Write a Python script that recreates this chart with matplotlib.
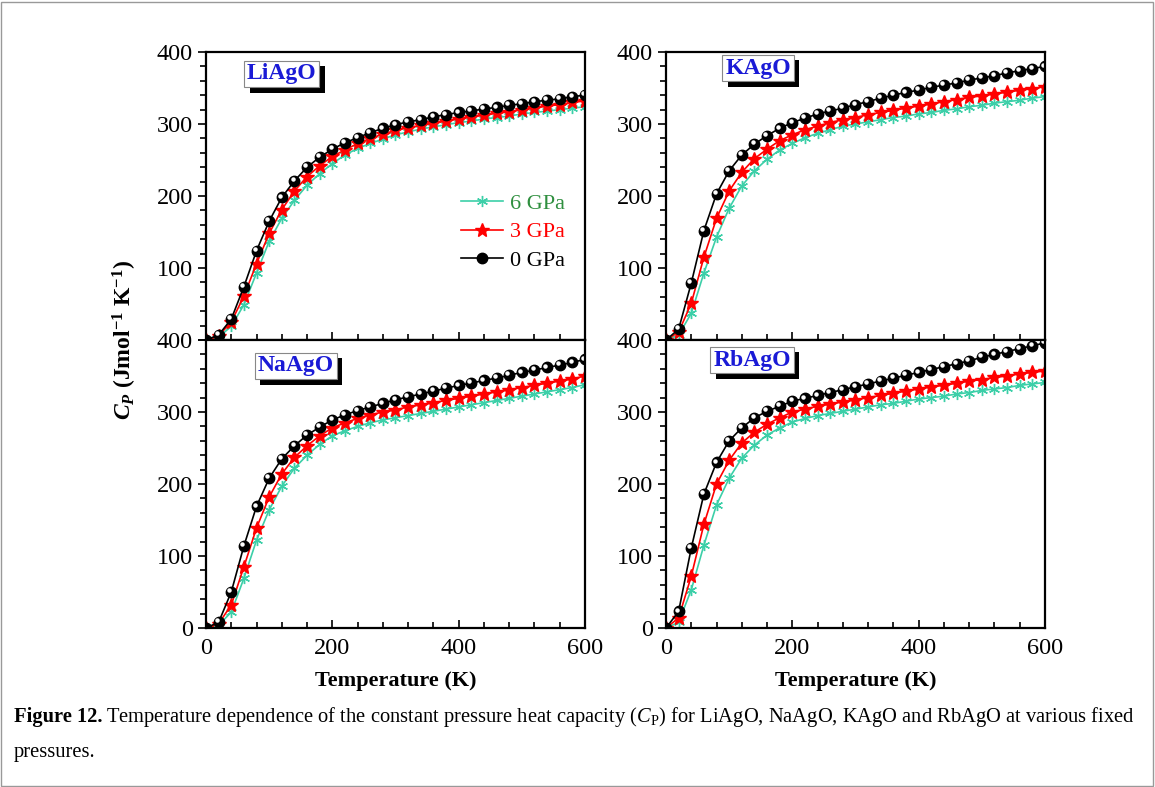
import matplotlib
matplotlib.use("Agg")
import matplotlib.pyplot as plt
from matplotlib.ticker import MultipleLocator
from matplotlib import patheffects, transforms
from matplotlib.patches import Rectangle

plt.rcParams['font.family'] = 'Liberation Serif'
plt.rcParams['mathtext.fontset'] = 'custom'
plt.rcParams['mathtext.it'] = 'Liberation Serif:italic:bold'
plt.rcParams['mathtext.rm'] = 'Liberation Serif:bold'
plt.rcParams['mathtext.sf'] = 'Liberation Serif:italic'
plt.rcParams['mathtext.tt'] = 'Liberation Serif'

# temperature grid (K)
temp = [0, 20, 40, 60, 80, 100, 120, 140, 160, 180, 200, 220, 240, 260, 280, 300,
        320, 340, 360, 380, 400, 420, 440, 460, 480, 500, 520, 540, 560, 580, 600]

# Cp (J/mol/K), for 0, 3 and 6 GPa
li_0 = [0, 7, 29, 74, 124, 165, 198, 221, 240, 254, 265, 274, 281, 288, 294, 299,
        303, 306, 310, 313, 316, 318, 321, 323, 326, 328, 331, 333, 335, 338, 340]
li_3 = [0, 6, 25, 61, 106, 148, 181, 207, 227, 242, 255, 264, 273, 280, 286, 291,
        295, 298, 301, 304, 307, 310, 312, 315, 317, 320, 322, 325, 327, 330, 332]
li_6 = [0, 4, 19, 49, 93, 137, 169, 194, 215, 231, 245, 257, 266, 273, 279, 285,
        289, 293, 296, 299, 302, 304, 307, 309, 311, 314, 316, 318, 320, 322, 324]

k_0 = [0, 15, 79, 152, 203, 235, 257, 272, 284, 294, 302, 308, 314, 318, 322, 327,
       331, 336, 340, 344, 347, 351, 354, 357, 361, 364, 367, 371, 374, 377, 380]
k_3 = [0, 11, 51, 115, 169, 207, 233, 252, 265, 277, 285, 292, 297, 302, 306, 309,
       313, 316, 319, 322, 325, 328, 331, 334, 337, 339, 342, 344, 347, 349, 352]
k_6 = [0, 7, 37, 93, 143, 183, 214, 235, 251, 264, 273, 281, 287, 292, 297, 300,
       303, 306, 309, 311, 314, 316, 319, 321, 324, 326, 329, 331, 333, 336, 338]

na_0 = [0, 8, 50, 114, 169, 208, 235, 253, 268, 279, 289, 296, 302, 307, 312, 317,
        321, 325, 329, 333, 337, 340, 344, 347, 351, 355, 358, 362, 365, 369, 373]
na_3 = [0, 6, 32, 85, 139, 182, 214, 237, 253, 267, 278, 285, 291, 296, 300, 303,
        307, 310, 313, 316, 319, 322, 325, 328, 331, 334, 337, 340, 343, 346, 350]
na_6 = [0, 4, 22, 69, 122, 164, 197, 222, 240, 255, 267, 274, 280, 285, 289, 292,
        295, 298, 301, 304, 307, 310, 313, 316, 319, 322, 325, 328, 331, 334, 338]

rb_0 = [0, 23, 111, 186, 230, 260, 278, 292, 301, 308, 315, 319, 323, 327, 331, 335,
        339, 343, 347, 351, 355, 359, 363, 367, 371, 376, 380, 384, 388, 392, 396]
rb_3 = [0, 14, 72, 144, 200, 233, 257, 272, 283, 292, 300, 304, 308, 311, 314, 317,
        320, 323, 326, 329, 332, 335, 337, 340, 343, 345, 348, 350, 353, 355, 357]
rb_6 = [0, 8, 53, 115, 171, 208, 236, 254, 268, 278, 286, 291, 295, 298, 301, 304,
        307, 310, 312, 315, 318, 320, 322, 325, 327, 330, 332, 334, 337, 339, 341]

labels = ['6 GPa', '3 GPa', '0 GPa']
GREEN = '#3ccfa8'

W, H = 1155, 787
fig = plt.figure(figsize=(W / 100, H / 100), dpi=100)

def px_axes(x0, y0, x1, y1):
    return fig.add_axes([x0 / W, 1 - y1 / H, (x1 - x0) / W, (y1 - y0) / H])

ax_li = px_axes(206, 52, 585, 340)
ax_k = px_axes(666, 52, 1045, 340)
ax_na = px_axes(206, 340, 585, 628)
ax_rb = px_axes(666, 340, 1045, 628)


def draw(ax, cp6, cp3, cp0, name, lx, ly, top):
    ax.plot(temp, cp6, color=GREEN, lw=1.2, marker=(6, 2, 0), ms=8, mew=1.0, label=labels[0])
    ax.plot(temp, cp3, color='red', lw=1.2, marker='*', ms=10, mec='red', label=labels[1])
    ax.plot(temp, cp0, color='k', lw=1.2, marker='o', ms=7.5, label=labels[2])
    # little highlight on the balls
    hl = transforms.offset_copy(ax.transData, fig=fig, x=-1.3, y=1.3, units='points')
    ax.plot(temp, cp0, ls='none', marker='o', ms=2.2, color='white', transform=hl)

    ax.set_xlim(0, 600)
    ax.set_ylim(0, 400)
    ax.xaxis.set_major_locator(MultipleLocator(200))
    ax.xaxis.set_minor_locator(MultipleLocator(40))
    ax.yaxis.set_major_locator(MultipleLocator(100))
    ax.yaxis.set_minor_locator(MultipleLocator(20))
    ax.tick_params(axis='x', which='both', direction='in', top=False, labelsize=17.5, pad=7)
    ax.tick_params(axis='y', which='both', direction='out', right=False, labelsize=17.5)
    ax.tick_params(which='major', length=6, width=1.2)
    ax.tick_params(which='minor', length=4, width=1.2)
    for s in ax.spines.values():
        s.set_linewidth(1.6)
    if top:
        ax.tick_params(axis='x', labelbottom=False)
        ax.set_yticks([0, 100, 200, 300, 400])
        ax.set_yticklabels(['', '100', '200', '300', '400'])
    else:
        ax.set_xlabel('Temperature (K)', fontsize=16, fontweight='bold', labelpad=9)

    t = ax.text(lx, ly, name, transform=ax.transAxes, ha='center', va='center',
                fontsize=17, fontweight='bold', color='#1a1ad6',
                bbox=dict(boxstyle='square,pad=0.12', fc='white', ec='#888888', lw=0.8))
    t.get_bbox_patch().set_path_effects([
        patheffects.SimplePatchShadow(offset=(4, -4), shadow_rgbFace='k', alpha=1.0),
        patheffects.Normal()])


draw(ax_li, li_6, li_3, li_0, 'LiAgO', 0.20, 0.924, True)
draw(ax_k, k_6, k_3, k_0, 'KAgO', 0.243, 0.944, True)
draw(ax_na, na_6, na_3, na_0, 'NaAgO', 0.237, 0.91, False)
draw(ax_rb, rb_6, rb_3, rb_0, 'RbAgO', 0.227, 0.93, False)

leg = ax_li.legend(loc='center left', bbox_to_anchor=(0.62, 0.375), frameon=False,
                   fontsize=16, handlelength=1.9, handletextpad=0.3, labelspacing=0.35)
for txt, c in zip(leg.get_texts(), ['#2f8f3f', 'red', 'black']):
    txt.set_color(c)

fig.text(125 / W, 1 - 340 / H, r'$C_P$ (Jmol$^{\mathrm{-1}}$ K$^{\mathrm{-1}}$)',
         rotation=90, ha='center', va='center', fontsize=17, fontweight='bold')

# caption
cap_fs = 14.8
cap_y1 = 1 - 722 / H
cap_y2 = 1 - 757 / H
t1 = fig.text(14 / W, cap_y1, 'Figure 12.', fontweight='bold', fontsize=cap_fs, va='baseline')
fig.canvas.draw()
bb = t1.get_window_extent()
fig.text((bb.x1 + 4) / W, cap_y1,
         'Temperature dependence of the constant pressure heat capacity ($\\mathsf{C}_\\mathtt{P}$) '
         'for LiAgO, NaAgO, KAgO and RbAgO at various fixed',
         fontsize=cap_fs, va='baseline')
fig.text(14 / W, cap_y2, 'pressures.', fontsize=cap_fs, va='baseline')

fig.add_artist(Rectangle((0.001, 0.001), 0.997, 0.997, transform=fig.transFigure,
                         fill=False, ec='#999999', lw=1))

fig.savefig('out.png', dpi=100)
